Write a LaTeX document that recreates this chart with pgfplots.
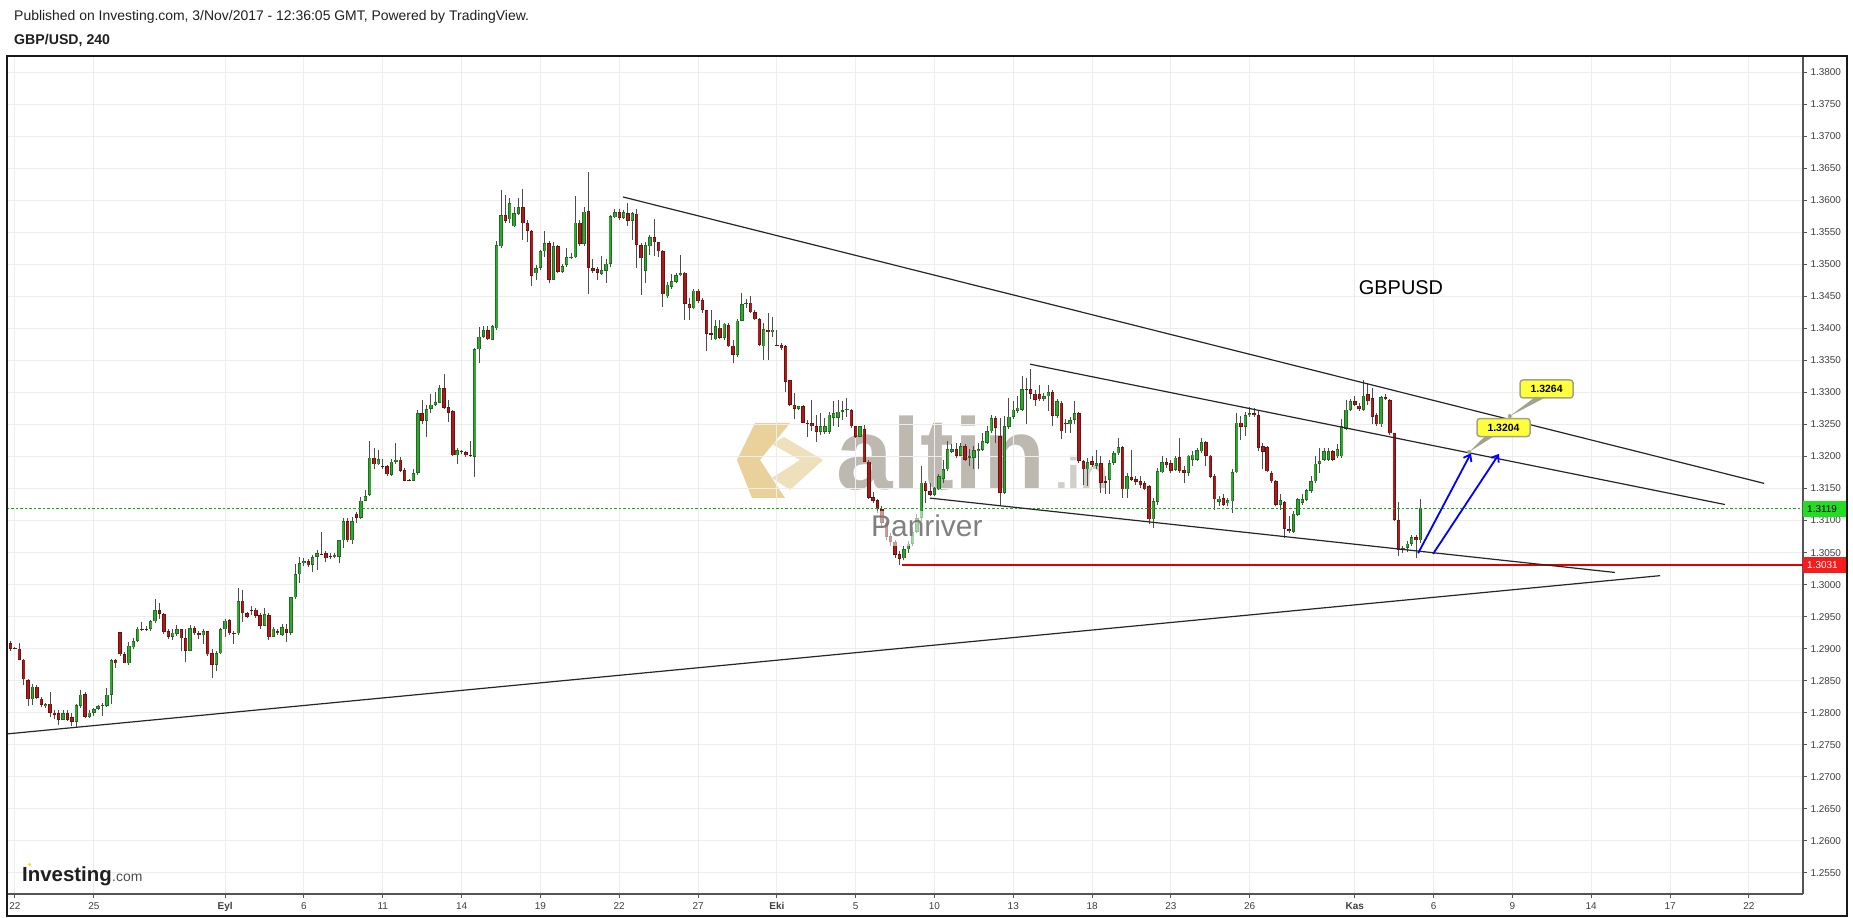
\documentclass[border=0pt]{standalone}
\usepackage{fontspec}
\setmainfont{Liberation Sans}
\usepackage{pgfplots}
\usepackage{pgfplotstable}
\pgfplotsset{compat=1.18}
\usetikzlibrary{arrows.meta}
\definecolor{gfill}{HTML}{33A532}
\definecolor{gbord}{HTML}{1F6B1F}
\definecolor{rfill}{HTML}{A81C1C}
\definecolor{rbord}{HTML}{6E1010}
\definecolor{wickc}{HTML}{4D4D4D}
\definecolor{gridc}{HTML}{EDEDED}
\definecolor{axisc}{HTML}{555555}
\definecolor{labc}{HTML}{3F3F3F}
\definecolor{dotgreen}{HTML}{10B010}
\definecolor{boxgreen}{HTML}{22DD22}
\definecolor{boxred}{HTML}{F51C1C}
\definecolor{wmgray}{HTML}{BDB9B1}
\definecolor{wmgold}{HTML}{E3C27A}
\definecolor{wmgold2}{HTML}{EEDDB5}
\definecolor{calloutc}{HTML}{FFFF3C}
\definecolor{tailc}{HTML}{A3A38A}

\pgfplotstableread{
n o h l c
-2 1.2890 1.2913 1.2882 1.2907
4 1.2821 1.2845 1.2812 1.2841
7 1.2810 1.2816 1.2808 1.2813
11 1.2789 1.2805 1.2788 1.2799
14 1.2786 1.2814 1.2776 1.2812
15 1.2811 1.2836 1.2808 1.2828
17 1.2794 1.2805 1.2792 1.2800
18 1.2800 1.2808 1.2795 1.2806
19 1.2806 1.2812 1.2804 1.2810
20 1.2810 1.2816 1.2795 1.2812
21 1.2811 1.2839 1.2809 1.2828
22 1.2828 1.2884 1.2813 1.2882
26 1.2877 1.2910 1.2875 1.2905
27 1.2902 1.2916 1.2899 1.2912
28 1.2912 1.2934 1.2910 1.2931
31 1.2931 1.2945 1.2928 1.2943
32 1.2943 1.2978 1.2940 1.2960
36 1.2919 1.2930 1.2914 1.2925
37 1.2923 1.2937 1.2920 1.2930
40 1.2897 1.2937 1.2896 1.2932
43 1.2921 1.2930 1.2907 1.2927
46 1.2875 1.2896 1.2865 1.2893
47 1.2893 1.2932 1.2891 1.2930
48 1.2930 1.2946 1.2918 1.2944
51 1.2924 1.2995 1.2922 1.2974
57 1.2936 1.2964 1.2935 1.2954
59 1.2919 1.2934 1.2918 1.2931
61 1.2922 1.2938 1.2920 1.2934
63 1.2925 1.2981 1.2921 1.2980
64 1.2980 1.3032 1.2978 1.3016
65 1.3016 1.3043 1.3002 1.3033
66 1.3033 1.3041 1.3029 1.3037
68 1.3031 1.3046 1.3019 1.3043
69 1.3043 1.3054 1.3023 1.3049
73 1.3043 1.3049 1.3041 1.3046
74 1.3043 1.3070 1.3033 1.3069
75 1.3069 1.3104 1.3057 1.3099
77 1.3069 1.3106 1.3063 1.3099
79 1.3104 1.3136 1.3102 1.3131
80 1.3131 1.3148 1.3130 1.3138
81 1.3140 1.3224 1.3138 1.3198
83 1.3188 1.3210 1.3187 1.3196
86 1.3171 1.3196 1.3170 1.3192
87 1.3192 1.3221 1.3189 1.3195
91 1.3162 1.3181 1.3161 1.3174
92 1.3174 1.3272 1.3171 1.3268
94 1.3256 1.3281 1.3230 1.3274
95 1.3274 1.3297 1.3268 1.3281
96 1.3281 1.3300 1.3278 1.3285
97 1.3284 1.3312 1.3283 1.3307
101 1.3202 1.3213 1.3188 1.3210
105 1.3199 1.3370 1.3168 1.3367
106 1.3367 1.3402 1.3346 1.3387
107 1.3387 1.3404 1.3385 1.3397
109 1.3382 1.3405 1.3381 1.3403
110 1.3400 1.3536 1.3398 1.3530
111 1.3528 1.3616 1.3525 1.3577
113 1.3570 1.3603 1.3564 1.3595
114 1.3559 1.3590 1.3558 1.3580
115 1.3579 1.3603 1.3577 1.3589
119 1.3486 1.3499 1.3476 1.3494
120 1.3494 1.3522 1.3491 1.3520
121 1.3520 1.3552 1.3511 1.3533
123 1.3476 1.3535 1.3475 1.3528
125 1.3488 1.3501 1.3486 1.3497
126 1.3499 1.3525 1.3496 1.3511
127 1.3509 1.3517 1.3508 1.3511
128 1.3511 1.3606 1.3509 1.3565
130 1.3532 1.3589 1.3528 1.3582
134 1.3485 1.3513 1.3483 1.3491
135 1.3490 1.3508 1.3471 1.3501
136 1.3501 1.3577 1.3496 1.3575
137 1.3573 1.3586 1.3572 1.3581
139 1.3572 1.3585 1.3570 1.3581
141 1.3568 1.3582 1.3538 1.3580
144 1.3490 1.3535 1.3471 1.3530
145 1.3528 1.3546 1.3514 1.3542
149 1.3450 1.3473 1.3447 1.3468
150 1.3465 1.3485 1.3462 1.3474
151 1.3473 1.3487 1.3470 1.3483
152 1.3483 1.3514 1.3481 1.3486
155 1.3431 1.3462 1.3430 1.3459
160 1.3383 1.3413 1.3381 1.3403
162 1.3385 1.3409 1.3382 1.3407
165 1.3359 1.3414 1.3356 1.3412
166 1.3412 1.3455 1.3411 1.3438
167 1.3438 1.3446 1.3432 1.3440
171 1.3372 1.3409 1.3351 1.3399
173 1.3394 1.3418 1.3387 1.3398
179 1.3274 1.3279 1.3273 1.3278
184 1.3238 1.3268 1.3234 1.3247
185 1.3238 1.3260 1.3235 1.3247
186 1.3238 1.3270 1.3235 1.3265
187 1.3260 1.3286 1.3247 1.3268
188 1.3260 1.3288 1.3246 1.3270
189 1.3270 1.3286 1.3257 1.3272
190 1.3272 1.3291 1.3262 1.3274
193 1.3231 1.3247 1.3230 1.3247
203 1.3041 1.3060 1.3038 1.3055
204 1.3055 1.3068 1.3050 1.3064
205 1.3064 1.3090 1.3060 1.3082
206 1.3082 1.3110 1.3080 1.3104
207 1.3104 1.3185 1.3100 1.3159
210 1.3140 1.3153 1.3138 1.3151
211 1.3149 1.3172 1.3147 1.3169
212 1.3165 1.3195 1.3159 1.3180
213 1.3180 1.3224 1.3177 1.3211
214 1.3207 1.3219 1.3205 1.3211
216 1.3201 1.3221 1.3200 1.3216
218 1.3198 1.3211 1.3185 1.3200
219 1.3198 1.3216 1.3180 1.3210
220 1.3208 1.3221 1.3180 1.3211
221 1.3210 1.3237 1.3208 1.3224
222 1.3221 1.3247 1.3219 1.3239
223 1.3239 1.3265 1.3237 1.3260
226 1.3143 1.3263 1.3141 1.3247
227 1.3246 1.3291 1.3243 1.3262
228 1.3262 1.3286 1.3259 1.3273
229 1.3271 1.3294 1.3268 1.3276
230 1.3273 1.3325 1.3271 1.3305
235 1.3290 1.3299 1.3286 1.3294
236 1.3294 1.3312 1.3271 1.3300
238 1.3263 1.3289 1.3260 1.3286
241 1.3250 1.3262 1.3237 1.3257
242 1.3257 1.3286 1.3251 1.3268
245 1.3180 1.3198 1.3154 1.3191
247 1.3185 1.3210 1.3180 1.3190
250 1.3164 1.3195 1.3142 1.3190
251 1.3190 1.3208 1.3187 1.3205
252 1.3205 1.3229 1.3203 1.3215
254 1.3149 1.3174 1.3135 1.3169
260 1.3102 1.3135 1.3089 1.3130
261 1.3129 1.3182 1.3125 1.3177
262 1.3175 1.3201 1.3174 1.3191
265 1.3179 1.3200 1.3177 1.3198
268 1.3174 1.3203 1.3169 1.3201
269 1.3195 1.3208 1.3185 1.3203
270 1.3195 1.3213 1.3193 1.3210
271 1.3208 1.3229 1.3206 1.3222
275 1.3129 1.3139 1.3122 1.3134
277 1.3127 1.3135 1.3122 1.3132
278 1.3130 1.3180 1.3112 1.3175
279 1.3175 1.3268 1.3174 1.3253
281 1.3246 1.3269 1.3232 1.3264
282 1.3264 1.3277 1.3262 1.3268
289 1.3125 1.3141 1.3117 1.3132
292 1.3082 1.3115 1.3080 1.3111
293 1.3109 1.3135 1.3107 1.3133
294 1.3128 1.3141 1.3125 1.3133
295 1.3132 1.3149 1.3130 1.3147
296 1.3146 1.3169 1.3143 1.3161
297 1.3161 1.3200 1.3159 1.3189
298 1.3189 1.3213 1.3174 1.3193
299 1.3195 1.3213 1.3193 1.3208
300 1.3195 1.3213 1.3193 1.3208
302 1.3200 1.3219 1.3198 1.3211
303 1.3200 1.3258 1.3198 1.3247
304 1.3243 1.3288 1.3241 1.3273
305 1.3273 1.3289 1.3271 1.3286
308 1.3273 1.3319 1.3271 1.3295
312 1.3250 1.3295 1.3246 1.3293
317 1.3054 1.3060 1.3050 1.3057
318 1.3057 1.3068 1.3051 1.3064
319 1.3064 1.3077 1.3060 1.3074
321 1.3069 1.3133 1.3065 1.3119
}\upc

\pgfplotstableread{
n o h l c
-1 1.2909 1.2912 1.2896 1.2900
0 1.2901 1.2902 1.2899 1.2900
1 1.2900 1.2909 1.2882 1.2883
2 1.2883 1.2884 1.2843 1.2852
3 1.2851 1.2853 1.2811 1.2821
5 1.2841 1.2843 1.2821 1.2823
6 1.2822 1.2825 1.2809 1.2812
8 1.2814 1.2832 1.2793 1.2800
9 1.2800 1.2804 1.2790 1.2797
10 1.2799 1.2805 1.2781 1.2789
12 1.2799 1.2805 1.2787 1.2789
13 1.2793 1.2799 1.2779 1.2786
16 1.2829 1.2832 1.2792 1.2794
23 1.2882 1.2884 1.2870 1.2877
24 1.2926 1.2926 1.2889 1.2891
25 1.2891 1.2895 1.2877 1.2877
29 1.2931 1.2941 1.2928 1.2930
30 1.2931 1.2935 1.2927 1.2930
33 1.2960 1.2972 1.2947 1.2954
34 1.2954 1.2955 1.2923 1.2926
35 1.2927 1.2930 1.2915 1.2919
38 1.2930 1.2931 1.2896 1.2916
39 1.2916 1.2931 1.2879 1.2897
41 1.2932 1.2935 1.2922 1.2924
42 1.2924 1.2927 1.2915 1.2921
44 1.2927 1.2928 1.2888 1.2891
45 1.2893 1.2900 1.2854 1.2875
49 1.2945 1.2947 1.2922 1.2924
50 1.2925 1.2928 1.2907 1.2923
52 1.2975 1.2992 1.2942 1.2955
53 1.2955 1.2958 1.2948 1.2950
54 1.2961 1.2967 1.2952 1.2960
55 1.2961 1.2964 1.2948 1.2951
56 1.2952 1.2955 1.2931 1.2936
58 1.2952 1.2955 1.2913 1.2918
60 1.2927 1.2930 1.2921 1.2924
62 1.2931 1.2938 1.2910 1.2925
67 1.3037 1.3040 1.3028 1.3030
70 1.3048 1.3082 1.3046 1.3047
71 1.3049 1.3052 1.3035 1.3041
72 1.3045 1.3049 1.3040 1.3043
76 1.3099 1.3104 1.3066 1.3069
78 1.3111 1.3114 1.3096 1.3104
82 1.3198 1.3213 1.3181 1.3188
84 1.3185 1.3196 1.3181 1.3183
85 1.3185 1.3187 1.3170 1.3172
88 1.3195 1.3199 1.3175 1.3178
89 1.3179 1.3182 1.3161 1.3162
90 1.3163 1.3165 1.3161 1.3162
93 1.3268 1.3288 1.3250 1.3256
98 1.3307 1.3329 1.3274 1.3276
99 1.3277 1.3288 1.3254 1.3268
100 1.3271 1.3272 1.3200 1.3202
102 1.3209 1.3210 1.3204 1.3207
103 1.3207 1.3209 1.3199 1.3202
104 1.3202 1.3224 1.3199 1.3200
108 1.3397 1.3403 1.3381 1.3383
112 1.3577 1.3608 1.3564 1.3568
116 1.3589 1.3618 1.3538 1.3564
117 1.3564 1.3569 1.3534 1.3552
118 1.3552 1.3553 1.3466 1.3482
122 1.3533 1.3537 1.3470 1.3476
124 1.3528 1.3530 1.3486 1.3488
129 1.3565 1.3569 1.3528 1.3532
131 1.3583 1.3644 1.3453 1.3494
132 1.3494 1.3508 1.3487 1.3490
133 1.3492 1.3496 1.3475 1.3487
138 1.3581 1.3586 1.3569 1.3572
140 1.3580 1.3595 1.3560 1.3568
142 1.3579 1.3586 1.3494 1.3530
143 1.3530 1.3533 1.3452 1.3509
146 1.3542 1.3570 1.3513 1.3534
147 1.3534 1.3535 1.3511 1.3520
148 1.3520 1.3522 1.3434 1.3453
153 1.3487 1.3488 1.3413 1.3438
154 1.3438 1.3447 1.3413 1.3431
156 1.3459 1.3462 1.3439 1.3442
157 1.3444 1.3447 1.3424 1.3429
158 1.3428 1.3429 1.3364 1.3391
159 1.3392 1.3429 1.3382 1.3390
161 1.3401 1.3413 1.3383 1.3385
163 1.3405 1.3408 1.3371 1.3372
164 1.3373 1.3382 1.3346 1.3359
168 1.3440 1.3450 1.3424 1.3425
169 1.3425 1.3428 1.3413 1.3414
170 1.3414 1.3416 1.3372 1.3374
172 1.3398 1.3424 1.3351 1.3394
174 1.3374 1.3398 1.3372 1.3373
175 1.3374 1.3377 1.3366 1.3369
176 1.3372 1.3374 1.3301 1.3317
177 1.3319 1.3320 1.3279 1.3281
178 1.3281 1.3299 1.3258 1.3274
180 1.3278 1.3281 1.3252 1.3253
181 1.3253 1.3257 1.3231 1.3252
182 1.3252 1.3288 1.3239 1.3247
183 1.3247 1.3265 1.3223 1.3238
191 1.3272 1.3274 1.3244 1.3247
192 1.3247 1.3247 1.3229 1.3231
194 1.3243 1.3249 1.3192 1.3192
195 1.3192 1.3195 1.3133 1.3135
196 1.3136 1.3145 1.3127 1.3131
197 1.3132 1.3133 1.3112 1.3118
198 1.3118 1.3122 1.3088 1.3096
199 1.3096 1.3099 1.3070 1.3075
200 1.3076 1.3081 1.3060 1.3066
201 1.3066 1.3070 1.3042 1.3047
202 1.3048 1.3052 1.3031 1.3040
208 1.3159 1.3161 1.3127 1.3146
209 1.3146 1.3159 1.3138 1.3140
215 1.3211 1.3221 1.3198 1.3201
217 1.3216 1.3219 1.3193 1.3195
224 1.3260 1.3263 1.3221 1.3245
225 1.3232 1.3260 1.3122 1.3143
231 1.3305 1.3323 1.3250 1.3304
232 1.3305 1.3337 1.3289 1.3298
233 1.3298 1.3304 1.3278 1.3288
234 1.3297 1.3312 1.3286 1.3289
237 1.3300 1.3304 1.3247 1.3263
239 1.3284 1.3286 1.3227 1.3239
240 1.3253 1.3258 1.3237 1.3250
243 1.3268 1.3269 1.3190 1.3193
244 1.3193 1.3195 1.3156 1.3180
246 1.3193 1.3200 1.3184 1.3187
248 1.3190 1.3200 1.3143 1.3159
249 1.3161 1.3169 1.3142 1.3159
253 1.3215 1.3216 1.3135 1.3149
255 1.3168 1.3210 1.3161 1.3164
256 1.3165 1.3169 1.3156 1.3160
257 1.3161 1.3169 1.3151 1.3155
258 1.3158 1.3161 1.3148 1.3149
259 1.3154 1.3156 1.3094 1.3102
263 1.3191 1.3198 1.3182 1.3186
264 1.3190 1.3195 1.3174 1.3177
266 1.3199 1.3229 1.3174 1.3177
267 1.3179 1.3185 1.3159 1.3174
272 1.3222 1.3224 1.3185 1.3201
273 1.3201 1.3203 1.3167 1.3168
274 1.3170 1.3172 1.3117 1.3133
276 1.3135 1.3141 1.3122 1.3125
280 1.3253 1.3263 1.3226 1.3246
283 1.3268 1.3276 1.3262 1.3264
284 1.3264 1.3273 1.3208 1.3213
285 1.3216 1.3221 1.3180 1.3207
286 1.3215 1.3217 1.3175 1.3177
287 1.3174 1.3177 1.3159 1.3161
288 1.3161 1.3164 1.3122 1.3125
290 1.3129 1.3130 1.3073 1.3087
291 1.3087 1.3107 1.3081 1.3083
301 1.3208 1.3210 1.3193 1.3195
306 1.3286 1.3294 1.3278 1.3281
307 1.3279 1.3283 1.3271 1.3274
309 1.3297 1.3314 1.3281 1.3286
310 1.3291 1.3307 1.3250 1.3262
311 1.3264 1.3268 1.3247 1.3250
313 1.3293 1.3297 1.3288 1.3289
314 1.3288 1.3290 1.3234 1.3236
315 1.3236 1.3237 1.3099 1.3101
316 1.3101 1.3129 1.3044 1.3054
320 1.3074 1.3078 1.3042 1.3069
}\downc

\begin{document}
\begin{tikzpicture}[x=1bp,y=1bp]
\fill[white] (0,0) rectangle (1853,918);
\coordinate (axsw) at (7,24);

% header
\node[anchor=base west, inner sep=0, text=black!88, font=\fontsize{14}{16}\selectfont] at (14,897) {Published on Investing.com, 3/Nov/2017 - 12:36:05 GMT, Powered by TradingView.};
\node[anchor=base west, inner sep=0, text=black!88, font=\fontsize{14.2}{16}\bfseries] at (14,873) {GBP/USD, 240};

% watermark (behind the chart)
\fill[wmgold, opacity=0.75] (755,495) -- (790,495) -- (760,458) -- (785,420) -- (752,420) -- (737,458) -- cycle;
\fill[wmgold2, opacity=0.9] (784,481) -- (823,458) -- (790,428) -- (772,440) -- (800,458) -- (772,474) -- cycle;
\node[anchor=base west, inner sep=0, text=wmgray, font=\fontsize{102}{102}\bfseries] at (836,428) {altin};
\node[anchor=base west, inner sep=0, text=wmgray!70, font=\fontsize{46}{46}\bfseries] at (1055,428) {.in};

\begin{axis}[
  at={(axsw)}, anchor=south west,
  scale only axis, width=1796bp, height=838bp,
  xmin=-0.3045, xmax=68.06, ymin=1.25172, ymax=1.3825,
  axis x line*=bottom, axis y line*=right,
  axis line style={draw=axisc, line width=1.2bp, -},
  xtick={0,3,8,11,14,17,20,23,26,29,32,35,38,41,44,47,51,54,57,60,63,66},
  xticklabels={22,25,\textbf{Eyl},6,11,14,19,22,27,\textbf{Eki},5,10,13,18,23,26,\textbf{Kas},6,9,14,17,22},
  ytick={1.255,1.26,1.265,1.27,1.275,1.28,1.285,1.29,1.295,1.3,1.305,1.31,1.315,1.32,1.325,1.33,1.335,1.34,1.345,1.35,1.355,1.36,1.365,1.37,1.375,1.38},
  scaled y ticks=false,
  yticklabel style={/pgf/number format/.cd, fixed, fixed zerofill, precision=4, /tikz/.cd},
  /pgf/number format/assume math mode=true,
  tick label style={font=\fontsize{10}{12}\selectfont, text=labc},
  grid=major, major grid style={draw=gridc, line width=1bp},
  tick style={draw=axisc, line width=1bp},
  major tick length=4bp, tick align=outside,
  xticklabel style={yshift=-1bp},
]
% wicks
\addplot[draw=none, mark=none, forget plot, error bars/.cd, y dir=plus, y explicit, error mark=none,
  error bar style={draw=wickc, line width=1bp}]
  table[x expr=\thisrow{n}/6, y=l, y error plus expr=\thisrow{h}-\thisrow{l}] {\upc};
\addplot[draw=none, mark=none, forget plot, error bars/.cd, y dir=plus, y explicit, error mark=none,
  error bar style={draw=wickc, line width=1bp}]
  table[x expr=\thisrow{n}/6, y=l, y error plus expr=\thisrow{h}-\thisrow{l}] {\downc};
% bodies: border then fill
\addplot[draw=none, mark=none, forget plot, error bars/.cd, y dir=plus, y explicit, error mark=none,
  error bar style={draw=gbord, line width=3.4bp}]
  table[x expr=\thisrow{n}/6, y=o, y error plus expr=\thisrow{c}-\thisrow{o}] {\upc};
\addplot[draw=none, mark=none, forget plot, error bars/.cd, y dir=plus, y explicit, error mark=none,
  error bar style={draw=gfill, line width=1.9bp}]
  table[x expr=\thisrow{n}/6, y expr=\thisrow{o}+0.0001, y error plus expr={max(\thisrow{c}-\thisrow{o}-0.0002,0)}] {\upc};
\addplot[draw=none, mark=none, forget plot, error bars/.cd, y dir=plus, y explicit, error mark=none,
  error bar style={draw=rbord, line width=3.4bp}]
  table[x expr=\thisrow{n}/6, y=c, y error plus expr=\thisrow{o}-\thisrow{c}] {\downc};
\addplot[draw=none, mark=none, forget plot, error bars/.cd, y dir=plus, y explicit, error mark=none,
  error bar style={draw=rfill, line width=1.9bp}]
  table[x expr=\thisrow{n}/6, y expr=\thisrow{c}+0.0001, y error plus expr={max(\thisrow{o}-\thisrow{c}-0.0002,0)}] {\downc};

% horizontal levels
\addplot[dotgreen, line width=1bp, dash pattern=on 2.5bp off 2bp, forget plot] coordinates {(-0.31,1.3119) (68.06,1.3119)};
\addplot[red!90!black, line width=2bp, forget plot] coordinates {(33.75,1.3031) (68.06,1.3031)};
% trend lines
\addplot[black!85, line width=1.2bp, forget plot] coordinates {(-0.31,1.2767) (62.62,1.3014)};
\addplot[black!85, line width=1.2bp, forget plot] coordinates {(23.14,1.3605) (66.58,1.3158)};
\addplot[black!85, line width=1.2bp, forget plot] coordinates {(38.64,1.3344) (65.09,1.3125)};
\addplot[black!85, line width=1.2bp, forget plot] coordinates {(34.83,1.3135) (60.90,1.3019)};
% blue arrows
\addplot[blue, line width=1.8bp, -{Straight Barb[length=6bp,width=9bp]}, forget plot] coordinates {(53.41,1.3049) (55.42,1.3205)};
\addplot[blue, line width=1.8bp, -{Straight Barb[length=6bp,width=9bp]}, forget plot] coordinates {(53.98,1.3048) (56.49,1.3204)};
% callouts
\fill[tailc] (axis cs:55.35,1.3207) -- (axis cs:56.25,1.32434) -- (axis cs:56.75,1.32434) -- cycle;
\fill[tailc] (axis cs:56.90,1.3263) -- (axis cs:58.05,1.32985) -- (axis cs:58.55,1.32985) -- cycle;
\fill[tailc] (axis cs:55.35,1.3207) circle[radius=2bp];
\fill[tailc] (axis cs:56.90,1.3263) circle[radius=2bp];
\node[draw=tailc, line width=1.5bp, fill=calloutc, rounded corners=3bp, minimum width=53bp, minimum height=18bp, inner sep=0, font=\fontsize{10.5}{12}\bfseries] at (axis cs:56.66,1.32452) {1.3204};
\node[draw=tailc, line width=1.5bp, fill=calloutc, rounded corners=3bp, minimum width=53bp, minimum height=18bp, inner sep=0, font=\fontsize{10.5}{12}\bfseries] at (axis cs:58.30,1.33053) {1.3264};
\end{axis}

% watermark text over chart (faded backing)
\fill[white, opacity=0.55] (868,372) rectangle (990,407);
\node[anchor=base west, inner sep=0, text=black!55, opacity=0.9, font=\fontsize{30}{30}\selectfont] at (871,381) {Panriver};
\node[anchor=center, inner sep=0, text=black, font=\fontsize{20}{22}\selectfont] at (1401,630) {GBPUSD};
\node[anchor=base west, inner sep=0, text=black!88, font=\fontsize{20.5}{22}\bfseries] at (22,36) {Investing};
\node[anchor=base west, inner sep=0, text=black!70, font=\fontsize{14}{15}\selectfont] at (112,36) {.com};
\fill[yellow!80!orange] (29.5,53.5) circle[radius=1.7bp];

% price labels
\fill[boxgreen] (1803,401) rectangle (1846,417);
\node[anchor=west, inner sep=0, font=\fontsize{10}{12}\selectfont] at (1807,409) {1.3119};
\fill[boxred] (1803,345) rectangle (1846,361);
\node[anchor=west, inner sep=0, text=white, font=\fontsize{10}{12}\selectfont] at (1807,353) {1.3031};

% outer frame
\draw[black!90, line width=1.6bp] (7,2) rectangle (1847,862);
\pgfresetboundingbox
\path[use as bounding box] (0,0) rectangle (1853,918);
\end{tikzpicture}
\end{document}
